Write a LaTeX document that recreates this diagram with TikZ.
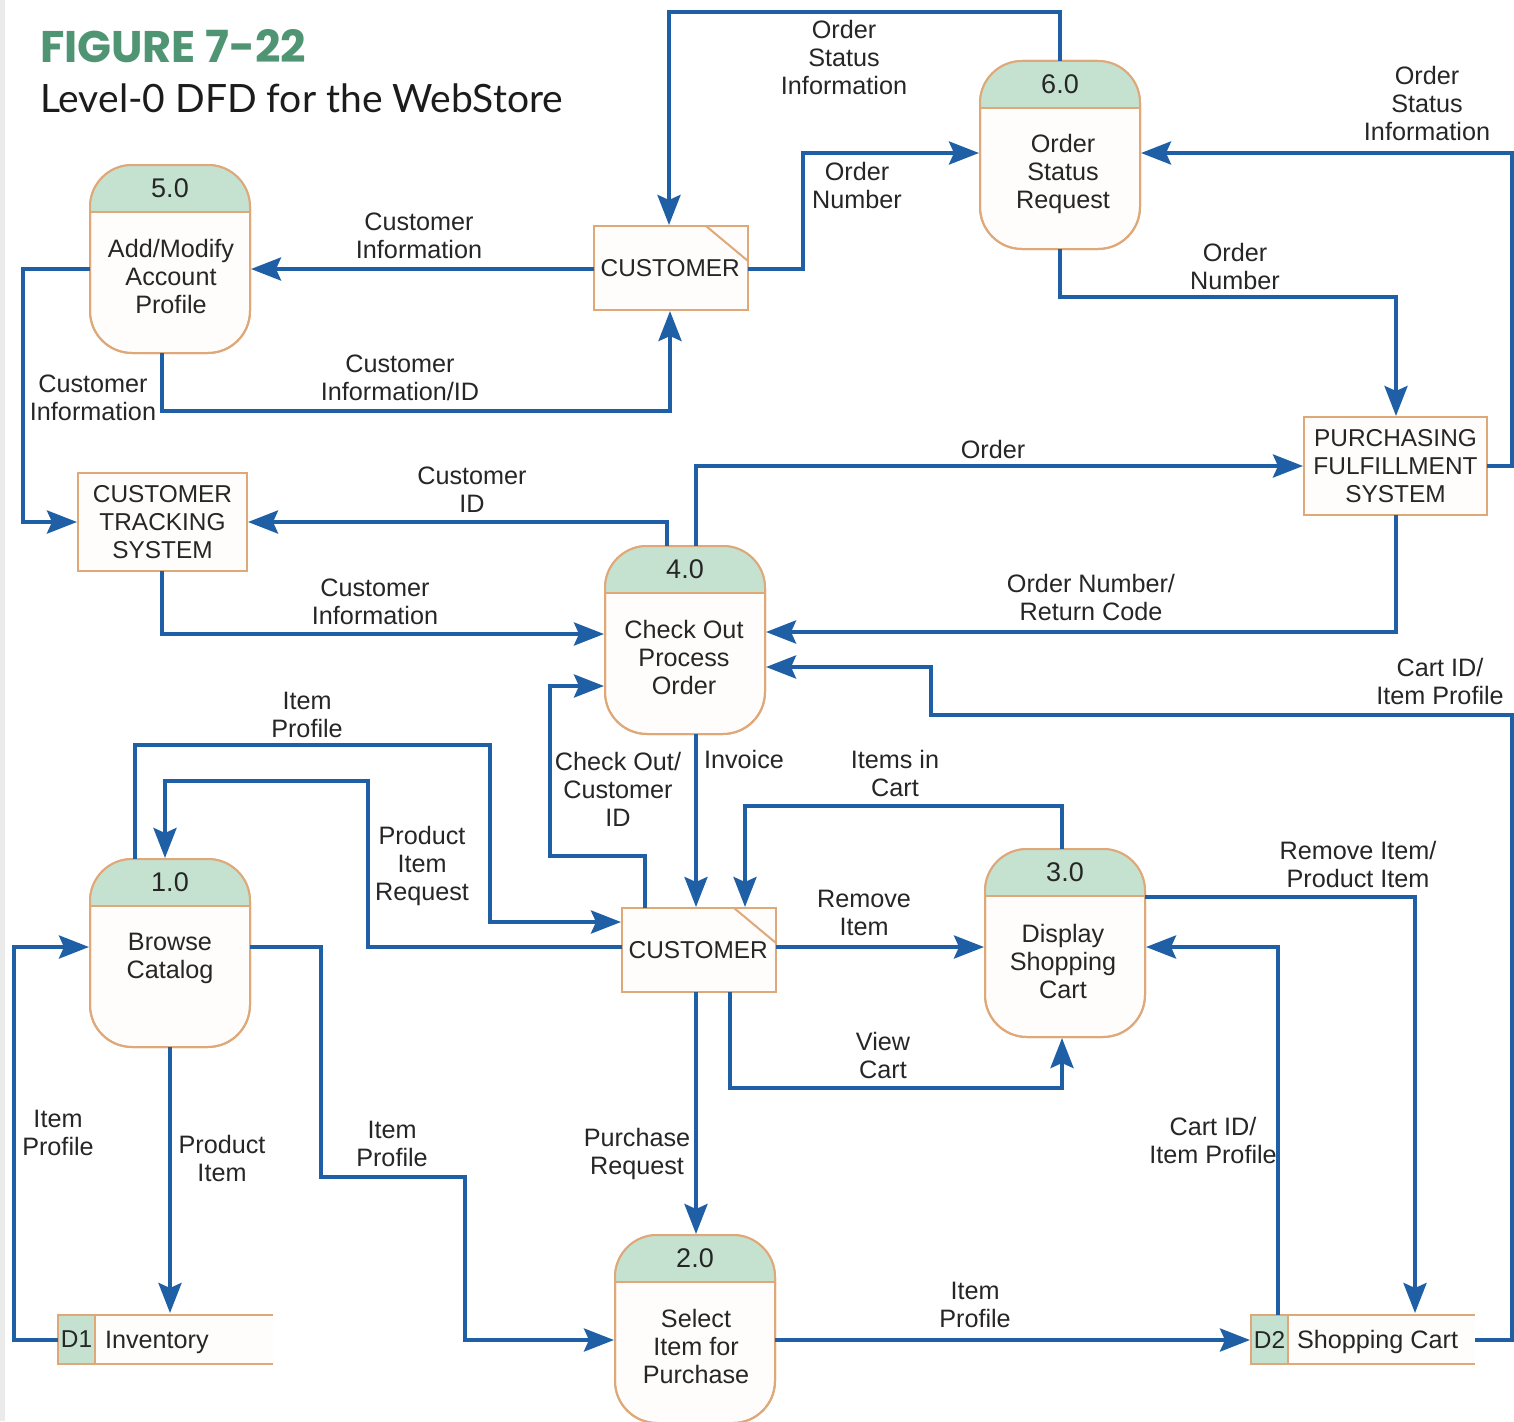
\documentclass[tikz,border=0pt]{standalone}
\usepackage{fontspec}
\setmainfont{Liberation Sans}
\newfontfamily\titlefont{Lato}
\newfontfamily\figfont{Poppins}
\usetikzlibrary{arrows.meta,calc}
\definecolor{flow}{HTML}{1F5FA5}
\definecolor{edge}{HTML}{DFA878}
\definecolor{head}{HTML}{C5E2D1}
\definecolor{paper}{HTML}{FEFDFB}
\definecolor{titlegreen}{HTML}{4F9473}
\definecolor{titleink}{HTML}{1C1C1C}
\definecolor{ink}{HTML}{262626}
\tikzset{
  every node/.style={text=ink,font=\fontsize{25.2}{28}\selectfont,outer sep=0pt},
  lbl/.style={inner sep=0pt,align=center},
  procid/.style={inner sep=0pt,font=\fontsize{27}{28}\selectfont},
  procbox/.style={draw=edge,line width=2pt,fill=paper,rounded corners=42pt,minimum width=160pt,minimum height=188pt,inner sep=0pt,anchor=north west},
  ent/.style={draw=edge,line width=2pt,fill=paper,inner sep=0pt,anchor=north west,align=center,font=\fontsize{24.4}{28}\selectfont},
  flowline/.style={draw=flow,line width=4pt,line join=miter},
  arr/.style={flowline,-{Stealth[length=30pt,width=23pt,inset=5pt]}},
  storeid/.style={draw=edge,line width=2pt,fill=head,inner sep=0pt,anchor=north west,minimum width=37pt,minimum height=49pt,font=\fontsize{24.4}{28}\selectfont},
  storebody/.style={fill=paper,inner sep=0pt,anchor=north west,minimum height=49pt},
}
\newcommand{\procshape}[7]{%
  \node[procbox] (#1) at (#2,#3) {};
  \begin{scope}
    \clip ([xshift=-2pt,yshift=2pt]#1.north west) rectangle ([xshift=2pt,yshift=-47pt]#1.north east);
    \fill[head,rounded corners=42pt] (#1.north west) rectangle (#1.south east);
  \end{scope}
  \draw[edge,line width=2pt,rounded corners=42pt] (#1.north west) rectangle (#1.south east);
  \draw[edge,line width=2pt] ([yshift=-47pt]#1.north west) -- ([yshift=-47pt]#1.north east);
  \node[procid] (#1id) at ([yshift=-23pt]#1.north) {#4};
  \node[lbl] (#1txt) at (#6,#7) {#5};
}
\begin{document}
\begin{tikzpicture}[x=1pt,y=-1pt]
\useasboundingbox (0,0) rectangle (1514,1421);
\clip (0,0) rectangle (1514,1421);
\fill[white] (0,0) rectangle (1514,1421);
\fill[black!8] (0,0) rectangle (5,1421);

% title
\node[lbl,anchor=west,text=titlegreen] (fig) at (40,46.5) {\resizebox{266pt}{33pt}{\figfont\bfseries\fontsize{46}{46}\selectfont FIGURE 7-22}};
\node[lbl,anchor=west,text=titleink] (sub) at (40,98) {\resizebox{523pt}{!}{\titlefont\fontsize{44}{44}\selectfont Level-0 DFD for the WebStore}};

% processes
\procshape{pfive}{90}{165}{5.0}{Add/Modify\\Account\\Profile}{171}{276.5}
\procshape{psix}{980}{61}{6.0}{Order\\Status\\Request}{1063}{174}
\procshape{pfour}{605}{546}{4.0}{Check Out\\Process\\Order}{684}{657.5}
\procshape{pone}{90}{859}{1.0}{Browse\\Catalog}{170}{958}
\procshape{pthree}{985}{849}{3.0}{Display\\Shopping\\Cart}{1063}{961}
\procshape{ptwo}{615}{1235}{2.0}{Select\\Item for\\Purchase}{696}{1346}

% external entities
\node[ent,minimum width=154pt,minimum height=84pt] (cusa) at (594,226) {\raisebox{-1.5pt}{CUSTOMER\kern1.5pt}};
\draw[edge,line width=2pt] ([xshift=-42pt]cusa.north east) -- ([yshift=-35pt]cusa.north east);
\node[ent,minimum width=154pt,minimum height=84pt] (cusb) at (622,908) {\raisebox{-1.5pt}{CUSTOMER\kern1.5pt}};
\draw[edge,line width=2pt] ([xshift=-42pt]cusb.north east) -- ([yshift=-35pt]cusb.north east);
\node[ent,minimum width=169pt,minimum height=98pt] (track) at (78,473) {CUSTOMER\\TRACKING\\SYSTEM};
\node[ent,minimum width=183pt,minimum height=98pt] (purch) at (1304,417) {PURCHASING\\FULFILLMENT\\SYSTEM};

% data stores
\node[storebody,minimum width=178pt] (invb) at (95,1315) {};
\draw[edge,line width=2pt] (invb.north west) -- (invb.north east) (invb.south west) -- (invb.south east);
\node[storeid] (done) at (58,1315) {D1};
\node[lbl,anchor=west] (invt) at (105,1342) {Inventory};
\node[storebody,minimum width=187pt] (cartb) at (1288,1315) {};
\draw[edge,line width=2pt] (cartb.north west) -- (cartb.north east) (cartb.south west) -- (cartb.south east);
\node[storeid] (dtwo) at (1251,1315) {D2};
\node[lbl,anchor=west] (cartt) at (1297,1342) {Shopping Cart};

% connectors
\path[arr] (1060,0 |- psix.north) -- (1060,12) -- (669,12) -- (669,225);
\path[arr] (cusa.east |- 0,269) -- (803,269) -- (803,153) -- (979,153);
\path[arr] (purch.east |- 0,466) -- (1512,466) -- (1512,153) -- (1141,153);
\path[arr] (1060,0 |- psix.south) -- (1060,297) -- (1396,297) -- (1396,416);
\path[arr] (cusa.west |- 0,269) -- (251,269);
\path[arr] (pfive.west |- 0,269) -- (23,269) -- (23,522) -- (77,522);
\path[arr] (162,0 |- pfive.south) -- (162,411) -- (670,411) -- (670,311);
\path[arr] (696,0 |- pfour.north) -- (696,466) -- (1303,466);
\path[arr] (667,0 |- pfour.north) -- (667,522) -- (248,522);
\path[arr] (162,0 |- track.south) -- (162,634) -- (604,634);
\path[arr] (1396,0 |- purch.south) -- (1396,632) -- (766,632);
\path[arr] (cartb.east |- 0,1340) -- (1512,1340) -- (1512,715) -- (931,715) -- (931,667) -- (766,667);
\path[arr] (645,0 |- cusb.north) -- (645,856) -- (550,856) -- (550,686) -- (604,686);
\path[arr] (696,0 |- pfour.south) -- (696,907);
\path[arr] (135,0 |- pone.north) -- (135,745) -- (490,745) -- (490,922) -- (621,922);
\path[arr] (cusb.west |- 0,947) -- (368,947) -- (368,781) -- (165,781) -- (165,858);
\path[arr] (1062,0 |- pthree.north) -- (1062,806) -- (745,806) -- (745,907);
\path[arr] (cusb.east |- 0,947) -- (984,947);
\path[arr] (730,0 |- cusb.south) -- (730,1088) -- (1062,1088) -- (1062,1038);
\path[arr] (696,0 |- cusb.south) -- (696,1234);
\path[arr] (pthree.east |- 0,897) -- (1415,897) -- (1415,1313);
\path[arr] (1278,0 |- dtwo.north) -- (1278,947) -- (1146,947);
\path[arr] (ptwo.east |- 0,1340) -- (1250,1340);
\path[arr] (170,0 |- pone.south) -- (170,1313);
\path[arr] (done.west |- 0,1340) -- (14,1340) -- (14,947) -- (89,947);
\path[arr] (pone.east |- 0,947) -- (321,947) -- (321,1177) -- (465,1177) -- (465,1340) -- (614,1340);

% labels
\node[lbl] (la) at (844,57) {Order\\Status\\Information};
\node[lbl] (lb) at (857,185) {Order\\Number};
\node[lbl] (lc) at (1427,103) {Order\\Status\\Information};
\node[lbl] (ld) at (1235,266) {Order\\Number};
\node[lbl] (le) at (419,236) {Customer\\Information};
\node[lbl] (lf) at (93,398) {Customer\\Information};
\node[lbl] (lg) at (400,378) {Customer\\Information/ID};
\node[lbl] (lh) at (993,449) {Order};
\node[lbl] (li) at (472,490) {Customer\\ID};
\node[lbl] (lj) at (375,602) {Customer\\Information};
\node[lbl] (lk) at (1091,597) {Order Number/\\Return Code};
\node[lbl] (ll) at (1440,681) {Cart ID/\\Item Profile};
\node[lbl] (lm) at (307,715) {Item\\Profile};
\node[lbl] (ln) at (422,866) {Product\\Item\\Request};
\node[lbl] (lo) at (618,789) {Check Out/\\Customer\\ID};
\node[lbl] (lp) at (744,759) {Invoice};
\node[lbl] (lq) at (895,773) {Items in\\Cart};
\node[lbl] (lr) at (864,913) {Remove\\Item};
\node[lbl] (ls) at (1358,864) {Remove Item/\\Product Item};
\node[lbl] (lt) at (883,1055) {View\\Cart};
\node[lbl] (lu) at (58,1133) {Item\\Profile};
\node[lbl] (lv) at (222,1158) {Product\\Item};
\node[lbl] (lw) at (392,1144) {Item\\Profile};
\node[lbl] (lx) at (637,1154) {Purchase\\Request};
\node[lbl] (ly) at (1213,1140) {Cart ID/\\Item Profile};
\node[lbl] (lz) at (975,1305) {Item\\Profile};
\end{tikzpicture}
\end{document}
